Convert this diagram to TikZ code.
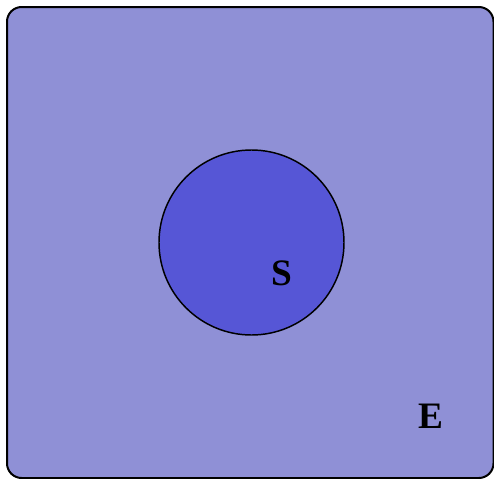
\documentclass[tikz,border=0pt]{standalone}
\usepackage{fontspec}
\setmainfont{Liberation Serif}
\usetikzlibrary{positioning}
\definecolor{univ}{HTML}{8F90D6}
\definecolor{setS}{HTML}{5656D6}
\tikzset{
  lbl/.style={font=\fontsize{28}{30}\selectfont\bfseries, inner sep=0pt},
}

\begin{document}
\begin{tikzpicture}[x=0.75pt, y=-0.75pt]
\useasboundingbox (0,0) rectangle (494,479);

% ---- universe ----
\draw[fill=univ, line width=1.5pt, rounded corners=11pt] (7,7) rectangle (493.5,478);
\node[lbl] (E) at (431,416) {E};

% ---- set S ----
\node[circle, draw, fill=setS, line width=1.1pt, minimum size=185*0.75pt, inner sep=0pt] (S) at (251.5,242.5) {};
\node[lbl] (Slbl) at (282,273) {S};
\end{tikzpicture}
\end{document}
